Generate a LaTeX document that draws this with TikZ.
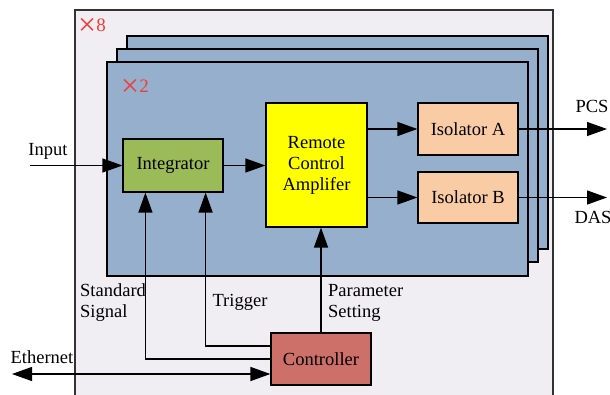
\documentclass[tikz,border=0pt]{standalone}
\usepackage{fontspec}
\setmainfont{Liberation Serif}
\newfontfamily\tms{Liberation Serif}
\usetikzlibrary{arrows.meta}
\definecolor{outerfill}{RGB}{240,238,243}
\definecolor{boardfill}{RGB}{149,175,205}
\definecolor{integfill}{RGB}{155,187,89}
\definecolor{isofill}{RGB}{250,204,165}
\definecolor{ctrlfill}{RGB}{205,112,106}
\definecolor{ampfill}{RGB}{255,255,0}
\definecolor{mulred}{RGB}{240,60,60}
\tikzset{
  box/.style={draw=black, line width=1.2pt, inner sep=0pt, align=center, font=\tms\fontsize{18.5}{21}\selectfont},
  arr/.style={line width=1.3pt, -{Triangle[length=20pt,width=14pt]}},
  arrboth/.style={line width=1.3pt, {Triangle[length=20pt,width=14pt]}-{Triangle[length=20pt,width=14pt]}},
  board/.style={draw=black, line width=1.3pt, fill=boardfill},
  lbl/.style={font=\tms\fontsize{18.5}{21}\selectfont, inner sep=0pt},
  mul/.style={font=\tms\fontsize{19}{21}\selectfont, text=mulred, inner sep=0pt}
}
\newcommand{\bigtimes}{{\fontsize{32}{21}\selectfont\raisebox{-4.5pt}{×}}}
\begin{document}
\begin{tikzpicture}[x=1pt,y=-1pt]
\clip (0,0) rectangle (610,394);
\fill[white] (0,0) rectangle (610,394);
% outer box
\draw[draw=black!80, line width=1.2pt, fill=outerfill] (75,10) rectangle (553,410);
\node[mul] (x8) at (92,27) {\bigtimes8};
% boards
\draw[board] (127,36) rectangle (548,249);
\draw[board] (117,49) rectangle (538,262);
\draw[board] (107,62) rectangle (528,276);
\node[mul] (x2) at (135,88) {\bigtimes2};
% nodes
\node[box, fill=integfill, minimum width=100pt, minimum height=53pt] (integ) at (173,165.5) {Integrator};
\node[box, fill=ampfill, minimum width=101pt, minimum height=124pt] (amp) at (316.5,165) {Remote\\Control\\Amplifer};
\node[box, fill=isofill, minimum width=100pt, minimum height=52pt] (isoA) at (468,129) {Isolator A};
\node[box, fill=isofill, minimum width=100pt, minimum height=51pt] (isoB) at (468,197.5) {Isolator B};
\node[box, fill=ctrlfill, minimum width=100pt, minimum height=52pt] (ctrl) at (321,359) {Controller};
% coordinates
\coordinate (in) at (30,165.5);
\coordinate (pcs) at (607,129);
\coordinate (das) at (607,197.5);
\coordinate (eth) at (12,374);
% connectors
\draw[arr] (in) -- (integ.west);
\draw[arr] (integ.east) -- (integ.east -| amp.west);
\draw[arr] (amp.east |- isoA.west) -- (isoA.west);
\draw[arr] (amp.east |- isoB.west) -- (isoB.west);
\draw[arr] (isoA.east) -- (pcs);
\draw[arr] (isoB.east) -- (das);
\draw[arr] (ctrl.west) -| ([xshift=23pt]integ.south west);
\draw[arr] ([yshift=13pt]ctrl.west) -| ([xshift=-18pt]integ.south east);
\draw[arr] (ctrl.north) -- (ctrl.north |- amp.south);
\draw[arrboth] (eth) -- (ctrl.west |- eth);
% labels
\node[lbl] (linput) at (48,151) {Input};
\node[lbl] (lpcs) at (592,106) {PCS};
\node[lbl] (ldas) at (593,217) {DAS};
\node[lbl] (leth) at (42,357) {Ethernet};
\node[lbl, anchor=west, align=left] (lstd) at (80,302.5) {Standard\\Signal};
\node[lbl] (ltrig) at (240,302) {Trigger};
\node[lbl, anchor=west, align=left] (lpar) at (328,302.5) {Parameter\\Setting};
\end{tikzpicture}
\end{document}
